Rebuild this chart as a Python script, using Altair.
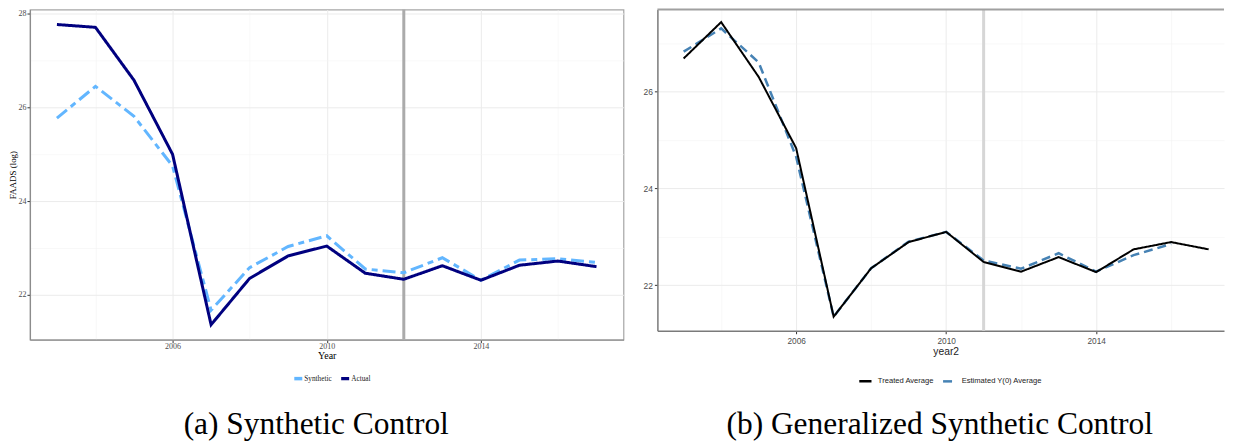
import altair as alt
import pandas as pd

# ---------------- data ----------------
years = list(range(2003, 2018))

sc_series = ["Synthetic", "Actual"]
sc_synthetic = [25.77, 26.45, 25.81, 24.75, 21.67, 22.58, 23.03, 23.26, 22.55, 22.47, 22.79, 22.31, 22.74, 22.77, 22.69]
sc_actual = [27.77, 27.71, 26.58, 25.00, 21.36, 22.35, 22.83, 23.04, 22.46, 22.33, 22.62, 22.31, 22.63, 22.72, 22.60]

gsc_series = ["Treated Average", "Estimated Y(0) Average"]
gsc_treated = [26.68, 27.43, 26.30, 24.83, 21.35, 22.35, 22.89, 23.10, 22.48, 22.28, 22.58, 22.27, 22.74, 22.89, 22.74]
gsc_estimated = [26.82, 27.30, 26.60, 24.65, 21.35, 22.35, 22.90, 23.10, 22.51, 22.34, 22.66, 22.28, 22.62, 22.85, None]

x_grid_years = [2004, 2006, 2008, 2010, 2012, 2014, 2016]
sc_y_grid = [22, 23, 24, 25, 26, 27, 28]
gsc_y_grid = [22, 23, 24, 25, 26, 27]
sc_treat_year = [2012]
gsc_treat_year = [2011]

captions = ["(a) Synthetic Control", "(b) Generalized Synthetic Control"]

SERIF = "Liberation Serif"
SANS = "Liberation Sans"

sc_df = pd.DataFrame({
    "year": years * 2,
    "value": sc_synthetic + sc_actual,
    "series": [sc_series[0]] * len(years) + [sc_series[1]] * len(years),
})
gsc_df = pd.DataFrame({
    "year": years * 2,
    "value": gsc_estimated + gsc_treated,
    "series": [gsc_series[1]] * len(years) + [gsc_series[0]] * len(years),
})


def major_x(a, b):
    return {"condition": {"test": "datum.value % 4 == 2", "value": a}, "value": b}


def major_y(a, b):
    return {"condition": {"test": "datum.value % 2 == 0", "value": a}, "value": b}


# ---------------- left panel: Synthetic Control ----------------
L_W, L_H = 595, 331

l_x = alt.X(
    "year:Q",
    scale=alt.Scale(domain=[2002.3, 2017.7], nice=False, zero=False),
    axis=alt.Axis(
        values=x_grid_years, format="d",
        labelExpr="datum.value % 4 == 2 ? datum.label : ''",
        labelFont=SERIF, labelFontSize=8, labelColor="#4D4D4D", labelPadding=0,
        tickOpacity=major_x(1, 0), tickColor="#333333", tickSize=3,
        gridColor=major_x("#EBEBEB", "#F4F4F4"), gridWidth=major_x(1, 0.6),
        domainColor="#8C8C8C", domainWidth=1.2,
        title="Year", titleFont=SERIF, titleFontSize=10, titleFontWeight="normal",
        titleColor="black", titlePadding=0,
    ),
)
l_y = alt.Y(
    "value:Q",
    scale=alt.Scale(domain=[21.04, 28.09], nice=False, zero=False),
    axis=alt.Axis(
        values=sc_y_grid, format="d",
        labelExpr="datum.value % 2 == 0 ? datum.label : ''",
        labelFont=SERIF, labelFontSize=8, labelColor="#4D4D4D", labelPadding=1,
        tickOpacity=major_y(1, 0), tickColor="#333333", tickSize=3,
        gridColor=major_y("#EBEBEB", "#F4F4F4"), gridWidth=major_y(1, 0.6),
        domainColor="#8C8C8C", domainWidth=1.2,
        minExtent=11, maxExtent=11,
        title="FAADS (log)", titleFont=SERIF, titleFontSize=9, titleFontWeight="normal",
        titleColor="black", titlePadding=1,
    ),
)
l_legend = alt.Legend(
    title=None, orient="none", legendX=263, legendY=364, direction="horizontal",
    symbolType="stroke", symbolSize=64, symbolStrokeWidth=3.5,
    labelFont=SERIF, labelFontSize=7.3, labelColor="#222222", columnPadding=2,
    labelOffset=0,
)
l_color = alt.Color("series:N", scale=alt.Scale(domain=sc_series, range=["#62B6FF", "#00007F"]), legend=l_legend)
l_dash = alt.StrokeDash("series:N", scale=alt.Scale(domain=sc_series, range=[[13, 5, 6, 5], [1, 0]]), legend=l_legend)

l_base = alt.Chart(sc_df)
l_rule = alt.Chart(pd.DataFrame({"year": sc_treat_year})).mark_rule(color="#ABABAB", strokeWidth=3).encode(x=l_x)
l_synth = l_base.transform_filter(alt.datum.series == sc_series[0]).mark_line(strokeWidth=3).encode(
    x=l_x, y=l_y, color=l_color, strokeDash=l_dash)
l_act = l_base.transform_filter(alt.datum.series == sc_series[1]).mark_line(strokeWidth=3).encode(
    x=l_x, y=l_y, color=l_color, strokeDash=l_dash)
l_cap = alt.Chart(pd.DataFrame({"caption": [captions[0]]})).mark_text(
    font=SERIF, fontSize=31.5, align="center", baseline="alphabetic", color="black"
).encode(text="caption:N", x=alt.value(287), y=alt.value(426))

left = alt.layer(l_rule, l_synth, l_act, l_cap).properties(width=L_W, height=L_H)

# ---------------- right panel: Generalized Synthetic Control ----------------
R_W, R_H = 568, 322

r_x = alt.X(
    "year:Q",
    scale=alt.Scale(domain=[2002.3, 2017.41], nice=False, zero=False),
    axis=alt.Axis(
        values=x_grid_years, format="d",
        labelExpr="datum.value % 4 == 2 ? datum.label : ''",
        labelFont=SANS, labelFontSize=8.3, labelColor="#4D4D4D", labelPadding=3,
        tickOpacity=major_x(1, 0), tickColor="#333333", tickSize=3,
        gridColor=major_x("#EBEBEB", "#F4F4F4"), gridWidth=major_x(1, 0.6),
        domainColor="#7A7A7A", domainWidth=1.5,
        title="year2", titleFont=SANS, titleFontSize=10.3, titleFontWeight="normal",
        titleColor="#222222", titlePadding=2, titleX=289,
    ),
)
r_y = alt.Y(
    "value:Q",
    scale=alt.Scale(domain=[21.06, 27.69], nice=False, zero=False),
    axis=alt.Axis(
        values=gsc_y_grid, format="d",
        labelExpr="datum.value % 2 == 0 ? datum.label : ''",
        labelFont=SANS, labelFontSize=8.5, labelColor="#4D4D4D", labelPadding=2,
        tickOpacity=major_y(1, 0), tickColor="#333333", tickSize=3,
        gridColor=major_y("#EBEBEB", "#F4F4F4"), gridWidth=major_y(1, 0.6),
        domainColor="#7A7A7A", domainWidth=1.5,
        minExtent=16, maxExtent=16,
        title=None,
    ),
)
r_legend = alt.Legend(
    title=None, orient="none", legendX=201, legendY=365, direction="horizontal",
    symbolType="stroke", symbolSize=150, symbolStrokeWidth=2.5,
    labelFont=SANS, labelFontSize=7.6, labelColor="#222222", columnPadding=3,
    labelOffset=5,
)
r_color = alt.Color("series:N", scale=alt.Scale(domain=gsc_series, range=["#000000", "#4682B4"]), legend=r_legend)
r_dash = alt.StrokeDash("series:N", scale=alt.Scale(domain=gsc_series, range=[[1, 0], [9, 5]]), legend=r_legend)

r_base = alt.Chart(gsc_df)
r_rule = alt.Chart(pd.DataFrame({"year": gsc_treat_year})).mark_rule(color="#D6D6D6", strokeWidth=3).encode(x=r_x)
r_est = r_base.transform_filter(alt.datum.series == gsc_series[1]).mark_line(strokeWidth=2.5).encode(
    x=r_x, y=r_y, color=r_color, strokeDash=r_dash)
r_trt = r_base.transform_filter(alt.datum.series == gsc_series[0]).mark_line(strokeWidth=2).encode(
    x=r_x, y=r_y, color=r_color, strokeDash=r_dash)
r_top = alt.Chart(pd.DataFrame({"edge": [0]})).mark_rule(color="#A0A0A0", strokeWidth=2).encode(
    x=alt.value(0), x2=alt.value(R_W), y=alt.value(0))
r_cap = alt.Chart(pd.DataFrame({"caption": [captions[1]]})).mark_text(
    font=SERIF, fontSize=31.5, align="center", baseline="alphabetic", color="black"
).encode(text="caption:N", x=alt.value(283), y=alt.value(426))

right = alt.layer(r_rule, r_est, r_trt, r_top, r_cap).properties(
    width=R_W, height=R_H, view=alt.ViewBackground(stroke=None)
)

chart = alt.hconcat(left, right, spacing=17).resolve_scale(
    color="independent", strokeDash="independent", x="independent", y="independent"
).properties(
    padding={"left": 0, "top": -2, "right": 0, "bottom": 0}
).configure_view(stroke="#A6A6A6", strokeWidth=1.2)

chart.save("out.html", embed_options={"renderer": "svg", "actions": False})
